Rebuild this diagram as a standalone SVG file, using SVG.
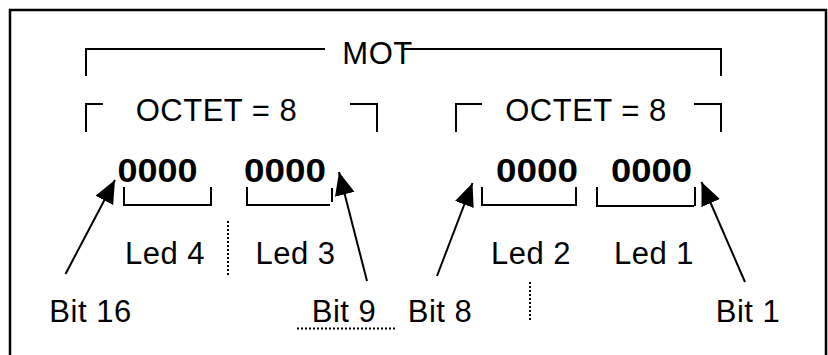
<svg xmlns="http://www.w3.org/2000/svg" width="828" height="355" viewBox="0 0 828 355">
<defs>
<marker id="ah" markerUnits="userSpaceOnUse" markerWidth="26" markerHeight="22" refX="23" refY="10" orient="auto">
<path d="M0,0 L23,10 L0,20 Z" fill="#000"/>
</marker>
<style>
.t{font-family:"Liberation Sans",Arial,sans-serif;font-size:31px;fill:#000;text-anchor:middle;letter-spacing:0.5px}
.b{font-family:"Liberation Sans",Arial,sans-serif;font-size:33px;font-weight:bold;fill:#000;text-anchor:middle}
.ln{fill:none;stroke:#000;stroke-width:2}
.dot{fill:none;stroke:#000;stroke-width:2;stroke-dasharray:2 2}
.ar{fill:none;stroke:#000;stroke-width:2;marker-end:url(#ah)}
</style>
</defs>
<rect x="0" y="0" width="828" height="355" fill="#fff"/>
<path d="M10,370 V10 H826 V370" fill="none" stroke="#000" stroke-width="2.5"/>
<g id="mot">
<path class="ln" d="M86,76 V49 H325 M403,49 H721 V76"/>
<text class="t" x="377.5" y="64">MOT</text>
</g>
<g id="octet1">
<path class="ln" d="M86,132 V104 H103 M350,104 H377 V132"/>
<text class="t" x="216.5" y="121">OCTET = 8</text>
</g>
<g id="octet2">
<path class="ln" d="M456,132 V104 H482 M694,104 H721 V132"/>
<text class="t" x="586" y="121">OCTET = 8</text>
</g>
<g id="nib4">
<text class="b" x="157.5" y="182" textLength="80" lengthAdjust="spacingAndGlyphs">0000</text>
<path class="ln" d="M124,187 V205 H211 V187"/>
</g>
<g id="nib3">
<text class="b" x="285" y="182" textLength="82" lengthAdjust="spacingAndGlyphs">0000</text>
<path class="ln" d="M247,187 V205 H330 M332,188 V202"/>
</g>
<g id="nib2">
<text class="b" x="537" y="182" textLength="82" lengthAdjust="spacingAndGlyphs">0000</text>
<path class="ln" d="M482,187 V205 H576 V187"/>
</g>
<g id="nib1">
<text class="b" x="651.5" y="182" textLength="81" lengthAdjust="spacingAndGlyphs">0000</text>
<path class="ln" d="M597,187 V206 H694 M695,187 V206"/>
</g>
<g id="led4"><text class="t" x="165" y="264">Led 4</text></g>
<g id="led3"><text class="t" x="295.5" y="264">Led 3</text></g>
<g id="led2"><text class="t" x="531" y="264">Led 2</text></g>
<g id="led1"><text class="t" x="654" y="264">Led 1</text></g>
<g id="bit16"><text class="t" x="90.5" y="322">Bit 16</text></g>
<g id="bit9"><text class="t" x="344" y="322">Bit 9</text></g>
<g id="bit8"><text class="t" x="440" y="322">Bit 8</text></g>
<g id="bit1"><text class="t" x="748" y="322">Bit 1</text></g>
<g id="connectors">
<line class="ar" x1="65.5" y1="274" x2="115" y2="180"/>
<line class="ar" x1="367" y1="281" x2="339" y2="172"/>
<line class="ar" x1="437" y1="276" x2="472.5" y2="183"/>
<line class="ar" x1="745" y1="282" x2="701.5" y2="182"/>
<line class="dot" x1="228" y1="221" x2="228" y2="275"/>
<line class="dot" x1="297" y1="328.5" x2="397" y2="328.5"/>
<line class="dot" x1="530" y1="282" x2="530" y2="321"/>
</g>
</svg>
